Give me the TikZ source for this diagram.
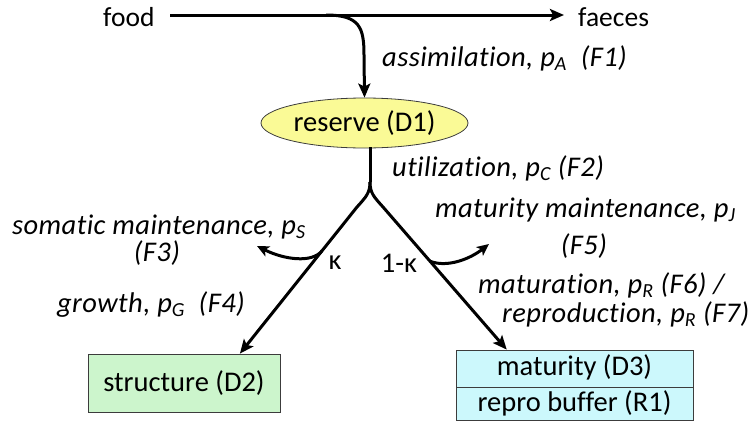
\documentclass[tikz,border=0pt]{standalone}
\usepackage{fontspec}
\setmainfont{Carlito}[Ligatures=NoCommon,ItalicFeatures={LetterSpace=1.5}]
\usetikzlibrary{arrows.meta,shapes.geometric,calc}
\definecolor{resfill}{RGB}{250,250,150}
\definecolor{strfill}{RGB}{204,245,204}
\definecolor{matfill}{RGB}{204,248,252}
\definecolor{boxline}{RGB}{60,60,60}
\begin{document}
\begin{tikzpicture}[x=1pt,y=-1pt,
  every node/.style={font=\fontsize{28.5}{30}\selectfont, inner sep=0pt},
  lbl/.style={font=\fontsize{28.5}{30}\selectfont\itshape},
  flow/.style={line width=3pt, -{Stealth[length=14pt,width=12pt,inset=3pt]}},
  sflow/.style={line width=3pt, -{Stealth[length=12pt,width=11pt,inset=3pt]}},
  box/.style={draw=boxline, line width=0.8pt}]
\useasboundingbox (0,0) rectangle (750,421);

% top
\node[anchor=base west, font=\fontsize{27.5}{30}\selectfont] (food) at (103,26) {food};
\node[anchor=base west, font=\fontsize{27.5}{30}\selectfont] (faeces) at (578,26) {faeces};
\coordinate (fl) at (170,15);
\coordinate (fr) at (564,15);
\coordinate (br) at (326,15);
\draw[flow] (fl) -- (fr);

% reserve
\node[ellipse, box, fill=resfill, minimum width=207pt, minimum height=50pt] (reserve) at (364.5,123) {reserve (D1)};
\draw[flow] (br) .. controls (360,15) and (364,28) .. (364,55) -- (reserve.north);
\node[lbl, anchor=base west] (assim) at (382,66) {assimilation, p\textsubscript{A}\ \ (F1)};

% boxes
\node[box, fill=strfill, minimum width=192pt, minimum height=58pt] (structure) at (184,383) {structure (D2)};
\node[box, fill=matfill, minimum width=237pt, minimum height=37pt, text height=19pt, text depth=5pt] (mat) at (574.5,368.5) {maturity (D3)};
\node[box, fill=matfill, minimum width=237pt, minimum height=33pt, anchor=north, text height=19pt, text depth=5pt] (buf) at (mat.south) {repro buffer (R1)};

% split
\coordinate (rs) at (370,147);
\coordinate (sp) at (370,182);
\coordinate (L1) at (357,207);
\coordinate (R1) at (383,207);
\coordinate (sttip) at ($(structure.north west)!0.79!(structure.north east)$);
\coordinate (mttip) at ($(mat.north west)!0.215!(mat.north east)$);
\draw[line width=3pt] (rs) -- (sp);
\draw[flow] (sp) .. controls (370,193) and (366,197) .. (L1) -- (sttip);
\draw[flow] (sp) .. controls (370,193) and (374,197) .. (R1) -- (mttip);

\coordinate (sm) at ($(L1)!0.3!(sttip)$);
\coordinate (smtip) at (257,246);
\draw[sflow] (sm) .. controls (312,263) and (285,260) .. (smtip);
\coordinate (mm) at ($(R1)!0.38!(mttip)$);
\coordinate (mmtip) at (489,244);
\draw[sflow] (mm) .. controls (447,268) and (470,259) .. (mmtip);

\node (kap) at (335,263) {κ};
\node (kap2) at (399,263) {1-κ};

% labels
\node[lbl, anchor=base west] (util) at (392,176) {utilization,\ p\textsubscript{C} (F2)};
\node[lbl, anchor=base west] (soma) at (12,234) {somatic maintenance, p\textsubscript{S}};
\node[lbl, anchor=base] (f3) at (157,261) {(F3)};
\node[lbl, anchor=base west] (grow) at (57,312) {growth, p\textsubscript{G}\ \ (F4)};
\node[lbl, anchor=base west] (matm) at (435,217) {maturity maintenance, p\textsubscript{J}};
\node[lbl, anchor=base] (f5) at (584,254) {(F5)};
\node[lbl, anchor=base west] (matu) at (478,293) {maturation,\ p\textsubscript{R}\ (F6) /};
\node[lbl, anchor=base west] (repr) at (502,322) {reproduction, p\textsubscript{R}\ (F7)};
\end{tikzpicture}
\end{document}
